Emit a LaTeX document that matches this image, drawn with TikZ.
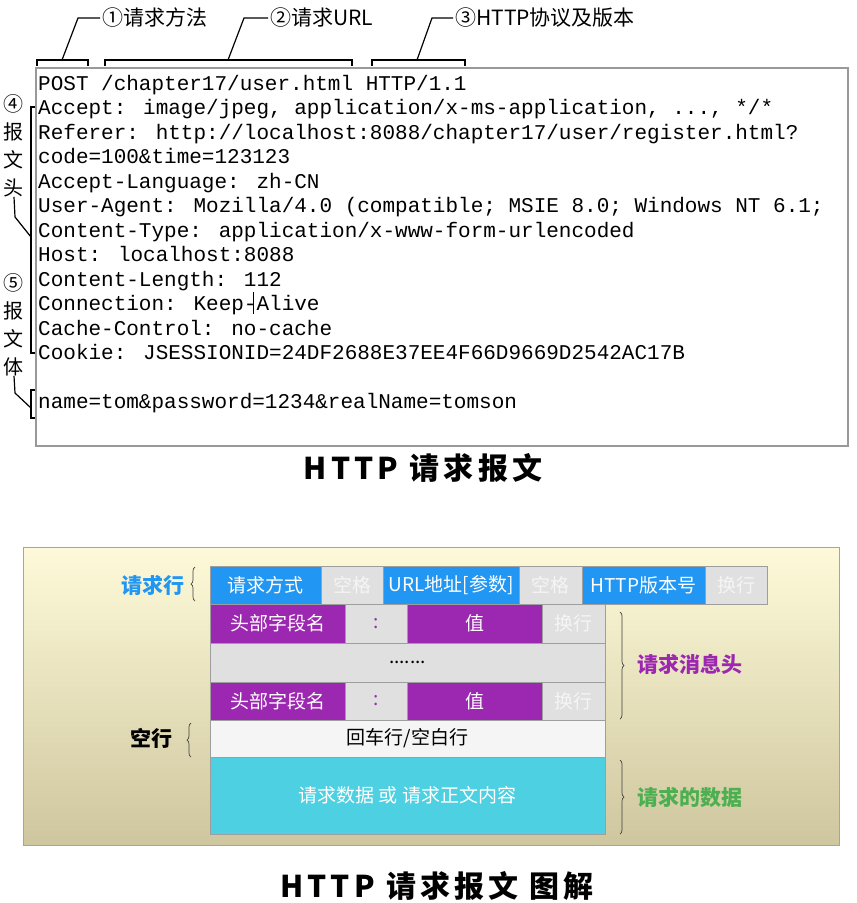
\documentclass[tikz,border=0pt]{standalone}
\usepackage{fontspec}
\setmainfont{Noto Sans CJK SC}
\newfontfamily\codefont{Liberation Mono}
\newfontfamily\titlefont[LetterSpace=14]{Noto Sans CJK SC}
\usepackage{xcolor}
\usepackage{tikz}
\usetikzlibrary{positioning}
\usetikzlibrary{decorations.pathreplacing}

\definecolor{reqblue}{HTML}{2196F3}
\definecolor{hdpurple}{HTML}{9C27B0}
\definecolor{bodycyan}{HTML}{4DD0E1}
\definecolor{sepgray}{HTML}{E0E0E0}
\definecolor{blankrow}{HTML}{F5F5F5}
\definecolor{datagreen}{HTML}{4CAF50}
\definecolor{paneltop}{HTML}{FEFAD9}
\definecolor{panelbot}{HTML}{CEC69E}
\definecolor{paneledge}{HTML}{A9A58F}
\definecolor{celledge}{HTML}{9E9E9E}

\tikzset{
  code/.style={anchor=base west, inner sep=0pt, font=\codefont\fontsize{21}{24}\selectfont},
  note/.style={inner sep=2pt, font=\fontsize{21}{24}\selectfont},
  cell/.style={draw=celledge, line width=0.8pt, inner sep=0pt, outer sep=0pt,
    minimum height=38pt, font=\fontsize{19}{21}\selectfont},
  bluecell/.style={cell, fill=reqblue, text=white},
  purplecell/.style={cell, fill=hdpurple, text=white},
  graycell/.style={cell, fill=sepgray, text=white!96!black},
  lbrace/.style={decorate, decoration={brace, amplitude=4pt}, black!75, line width=0.7pt},
  biglabel/.style={inner sep=0pt, font=\bfseries\fontsize{21}{24}\selectfont},
  bigtitle/.style={font=\titlefont\bfseries\fontsize{30}{32}\selectfont}
}

\begin{document}
\begin{tikzpicture}[x=1pt,y=-1pt]
\useasboundingbox (0,0) rectangle (857,903);
\fill[white] (0,0) rectangle (857,903);

% Raw request text
\draw[gray!80, line width=1.2pt] (36,68) rectangle (848,446);
\node[code] (l1) at (38,90) {POST /chapter17/user.html HTTP/1.1};
\node[code] (l2) at (38,114.5) {Accept: image/jpeg, application/x-ms-application, ..., */*};
\node[code] (l3) at (38,139) {Referer: http://localhost:8088/chapter17/user/register.html?};
\node[code] (l4) at (38,163.5) {code=100\&time=123123};
\node[code] (l5) at (38,188) {Accept-Language: zh-CN};
\node[code] (l6) at (38,212.5) {User-Agent: Mozilla/4.0 (compatible; MSIE 8.0; Windows NT 6.1;};
\node[code] (l7) at (38,237) {Content-Type: application/x-www-form-urlencoded};
\node[code] (l8) at (38,261.5) {Host: localhost:8088};
\node[code] (l9) at (38,286) {Content-Length: 112};
\node[code] (l10) at (38,310.5) {Connection: Keep-Alive};
\node[code] (l11) at (38,335) {Cache-Control: no-cache};
\node[code] (l12) at (38,359.5) {Cookie: JSESSIONID=24DF2688E37EE4F66D9669D2542AC17B};
\node[code] (l14) at (38,408.5) {name=tom\&password=1234\&realName=tomson};
\draw[line width=0.8pt] (253,292) -- (253,314);

% Brackets over the request line
\node[note, anchor=west] (lab1) at (100,18) {①请求方法};
\node[note, anchor=west] (lab2) at (268,18) {②请求URL};
\node[note, anchor=west] (lab3) at (453,18) {③HTTP协议及版本};
\draw[line width=1.2pt] (37,66) -- (37,60) -- (88,60) -- (88,66);
\draw[line width=1.2pt] (62,60) -- (78,18) -- (lab1.west);
\draw[line width=1.2pt] (105,66) -- (105,60) -- (352,60) -- (352,66);
\draw[line width=1.2pt] (228,60) -- (244,18) -- (lab2.west);
\draw[line width=1.2pt] (372,66) -- (372,60) -- (465,60) -- (465,66);
\draw[line width=1.2pt] (417,60) -- (432,18) -- (lab3.west);

% Brackets on the left
\node[note, anchor=north, align=center, inner sep=0pt, font=\fontsize{20}{28}\selectfont] (headlab) at (14,94) {④\\报\\文\\头};
\node[note, anchor=north, align=center, inner sep=0pt, font=\fontsize{20}{28}\selectfont] (bodylab) at (14,273) {⑤\\报\\文\\体};
\draw[line width=1.2pt] (35,107) -- (31,107) -- (31,353) -- (35,353);
\draw[line width=1.2pt] (headlab.south) -- (15,217) -- (31,237);
\draw[line width=1.2pt] (35,390) -- (31,390) -- (31,418) -- (35,418);
\draw[line width=1.2pt] (bodylab.south) -- (15,393) -- (31,408);

\node[bigtitle] (title1) at (423,468) {HTTP 请求报文};

% Diagram panel
\path[top color=paneltop, bottom color=panelbot, draw=paneledge, line width=1pt] (23,547) rectangle (839,845);

% request line
\node[bluecell, minimum width=111pt, anchor=north west] (method) at (210,566) {请求方式};
\node[graycell, minimum width=62pt, right=0pt of method] (gap1) {空格};
\node[bluecell, minimum width=136pt, right=0pt of gap1] (url) {URL地址[参数]};
\node[graycell, minimum width=63pt, right=0pt of url] (gap2) {空格};
\node[bluecell, minimum width=123pt, right=0pt of gap2] (ver) {HTTP版本号};
\node[graycell, minimum width=62pt, right=0pt of ver] (crlf1) {换行};

% header lines
\node[purplecell, minimum width=135pt, minimum height=39pt, below=0pt of method.south west, anchor=north west] (key1) {头部字段名};
\node[graycell, text=hdpurple, minimum width=62pt, minimum height=39pt, right=0pt of key1] (colon1) {:};
\node[purplecell, minimum width=135pt, minimum height=39pt, right=0pt of colon1] (val1) {值};
\node[graycell, minimum width=63pt, minimum height=39pt, right=0pt of val1] (crlf2) {换行};
\node[graycell, text=black, minimum width=395pt, minimum height=39pt, below=0pt of key1.south west, anchor=north west] (more) {.......};
\node[purplecell, minimum width=135pt, below=0pt of more.south west, anchor=north west] (key2) {头部字段名};
\node[graycell, text=hdpurple, minimum width=62pt, right=0pt of key2] (colon2) {:};
\node[purplecell, minimum width=135pt, right=0pt of colon2] (val2) {值};
\node[graycell, minimum width=63pt, right=0pt of val2] (crlf3) {换行};

% blank line and body
\node[cell, fill=blankrow, minimum width=395pt, minimum height=37pt, below=0pt of key2.south west, anchor=north west] (blank) {回车行/空白行};
\node[cell, fill=bodycyan, text=white, minimum width=395pt, minimum height=77pt, below=0pt of blank.south west, anchor=north west] (body) {请求数据 或 请求正文内容};

% braces and labels
\draw[lbrace] ([xshift=-15pt,yshift=3pt]method.south west) -- ([xshift=-15pt,yshift=-1pt]method.north west);
\node[biglabel, text=reqblue, anchor=east] (linelab) at ([xshift=-25pt]method.west) {请求行};
\draw[lbrace] ([xshift=-19pt]blank.south west) -- ([xshift=-19pt,yshift=-3pt]blank.north west);
\node[biglabel, anchor=east] (blanklab) at ([xshift=-37pt]blank.west) {空行};
\draw[lbrace] ([xshift=15pt,yshift=-8pt]crlf2.north east) -- ([xshift=15pt,yshift=1pt]crlf3.south east);
\node[biglabel, text=hdpurple, anchor=west] (headerlab) at ([xshift=32pt,yshift=-2pt]more.east) {请求消息头};
\draw[lbrace] ([xshift=15pt,yshift=-3pt]body.north east) -- ([xshift=15pt]body.south east);
\node[biglabel, text=datagreen, anchor=west] (datalab) at ([xshift=32pt,yshift=-2pt]body.east) {请求的数据};

\node[bigtitle] (title2) at (437,886) {HTTP 请求报文 图解};
\end{tikzpicture}
\end{document}
